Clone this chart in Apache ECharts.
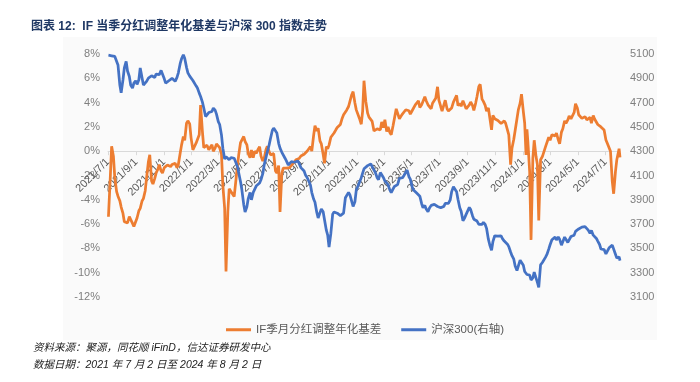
<!DOCTYPE html>
<html>
<head>
<meta charset="utf-8">
<script src="https://cdn.jsdelivr.net/npm/echarts@6/dist/echarts.min.js"></script>
<style>
html,body{margin:0;padding:0;background:#fff;}
#c{width:700px;height:382px;}
</style>
</head>
<body>
<div id="c"></div>
<script>
// ---- data (about twice a week + visible spikes), one row per month ----
const dates = [
'2021-07-02','2021-07-06','2021-07-09','2021-07-13','2021-07-16','2021-07-20','2021-07-23','2021-07-27','2021-07-30',
'2021-08-03','2021-08-06','2021-08-10','2021-08-13','2021-08-17','2021-08-20','2021-08-24','2021-08-27','2021-08-31',
'2021-09-03','2021-09-07','2021-09-10','2021-09-14','2021-09-17','2021-09-21','2021-09-24','2021-09-28',
'2021-10-01','2021-10-05','2021-10-08','2021-10-12','2021-10-15','2021-10-19','2021-10-22','2021-10-26','2021-10-29',
'2021-11-02','2021-11-05','2021-11-09','2021-11-12','2021-11-16','2021-11-19','2021-11-23','2021-11-26','2021-11-30',
'2021-12-03','2021-12-07','2021-12-10','2021-12-14','2021-12-17','2021-12-21','2021-12-24','2021-12-28','2021-12-31',
'2022-01-04','2022-01-07','2022-01-11','2022-01-14','2022-01-18','2022-01-21','2022-01-25','2022-01-28',
'2022-02-01','2022-02-04','2022-02-08','2022-02-11','2022-02-15','2022-02-18','2022-02-22','2022-02-25',
'2022-03-01','2022-03-04','2022-03-08','2022-03-11','2022-03-15','2022-03-18','2022-03-22','2022-03-25','2022-03-29',
'2022-04-01','2022-04-05','2022-04-08','2022-04-12','2022-04-15','2022-04-19','2022-04-22','2022-04-26','2022-04-29',
'2022-05-03','2022-05-06','2022-05-10','2022-05-13','2022-05-17','2022-05-20','2022-05-24','2022-05-27','2022-05-31',
'2022-06-03','2022-06-07','2022-06-10','2022-06-14','2022-06-17','2022-06-21','2022-06-24','2022-06-28',
'2022-07-01','2022-07-05','2022-07-08','2022-07-12','2022-07-15','2022-07-19','2022-07-22','2022-07-26','2022-07-29',
'2022-08-02','2022-08-05','2022-08-09','2022-08-12','2022-08-16','2022-08-19','2022-08-23','2022-08-26','2022-08-30',
'2022-09-02','2022-09-06','2022-09-09','2022-09-13','2022-09-16','2022-09-20','2022-09-23','2022-09-27','2022-09-30',
'2022-10-04','2022-10-07','2022-10-11','2022-10-14','2022-10-18','2022-10-21','2022-10-25','2022-10-28','2022-10-31',
'2022-11-04','2022-11-08','2022-11-11','2022-11-15','2022-11-18','2022-11-22','2022-11-25','2022-11-29',
'2022-12-02','2022-12-06','2022-12-09','2022-12-13','2022-12-16','2022-12-20','2022-12-23','2022-12-27','2022-12-30',
'2023-01-03','2023-01-06','2023-01-10','2023-01-13','2023-01-16','2023-01-20','2023-01-24','2023-01-27','2023-01-31',
'2023-02-03','2023-02-07','2023-02-10','2023-02-14','2023-02-17','2023-02-21','2023-02-24','2023-02-28',
'2023-03-03','2023-03-07','2023-03-10','2023-03-14','2023-03-17','2023-03-21','2023-03-24','2023-03-28','2023-03-31',
'2023-04-04','2023-04-07','2023-04-11','2023-04-14','2023-04-18','2023-04-21','2023-04-25','2023-04-28',
'2023-05-02','2023-05-05','2023-05-09','2023-05-12','2023-05-16','2023-05-19','2023-05-23','2023-05-26','2023-05-30',
'2023-06-02','2023-06-06','2023-06-09','2023-06-13','2023-06-16','2023-06-20','2023-06-23','2023-06-27','2023-06-30',
'2023-07-04','2023-07-07','2023-07-11','2023-07-14','2023-07-18','2023-07-21','2023-07-25','2023-07-28',
'2023-08-01','2023-08-04','2023-08-08','2023-08-11','2023-08-15','2023-08-18','2023-08-22','2023-08-25','2023-08-29',
'2023-09-01','2023-09-05','2023-09-08','2023-09-12','2023-09-15','2023-09-19','2023-09-22','2023-09-26','2023-09-29',
'2023-10-03','2023-10-06','2023-10-10','2023-10-13','2023-10-17','2023-10-20','2023-10-24','2023-10-27','2023-10-31',
'2023-11-03','2023-11-07','2023-11-10','2023-11-14','2023-11-17','2023-11-21','2023-11-24','2023-11-28',
'2023-12-01','2023-12-05','2023-12-08','2023-12-12','2023-12-15','2023-12-19','2023-12-22','2023-12-26','2023-12-29',
'2024-01-02','2024-01-05','2024-01-08','2024-01-10','2024-01-12','2024-01-16','2024-01-19','2024-01-23','2024-01-26','2024-01-30',
'2024-02-02','2024-02-05','2024-02-09','2024-02-13','2024-02-16','2024-02-20','2024-02-23','2024-02-27',
'2024-03-01','2024-03-05','2024-03-08','2024-03-12','2024-03-15','2024-03-19','2024-03-22','2024-03-26','2024-03-29',
'2024-04-02','2024-04-05','2024-04-09','2024-04-12','2024-04-16','2024-04-19','2024-04-23','2024-04-26','2024-04-30',
'2024-05-03','2024-05-07','2024-05-10','2024-05-14','2024-05-17','2024-05-21','2024-05-24','2024-05-28','2024-05-31',
'2024-06-04','2024-06-07','2024-06-11','2024-06-14','2024-06-18','2024-06-21','2024-06-25','2024-06-28',
'2024-07-02','2024-07-05','2024-07-09','2024-07-12','2024-07-16','2024-07-19','2024-07-23','2024-07-26','2024-07-31',
'2024-08-02'
];
// IF 季月分红调整年化基差 (%)
const basis = [
-5.4,-2.2,0.4,-0.44,-2.2,-3.33,-3.7,-4.07,-4.6,
-5.12,-5.8,-5.94,-5.9,-5.39,-5.4,-5.94,-6.2,-6.08,
-5.5,-4.9,-4.7,-4.1,-3.9,-3.25,-2.2,-0.86,
-0.3,-2.45,-2.7,-2.23,-1.8,-1.46,-1.1,-1.63,-1.8,
-1.35,-1.3,-1.13,-1.1,-1.27,-1.1,-1.21,-1.0,-1.35,
-1.1,-0.17,0.5,1.21,0.9,2.31,2.5,2.25,1.1,
0.11,0.1,0.66,0.5,1.35,3.8,1.62,0.3,
0.25,0.5,0.11,0.3,0.52,0.0,0.25,0.6,
0.52,0.3,-0.25,-2.8,-4.71,-9.9,-4.98,-3.1,-3.11,
-3.5,-3.74,-3.9,-1.27,-0.3,0.71,0.7,1.21,0.8,
0.52,-0.2,-0.53,0.1,-0.53,0.0,-0.17,0.1,0.38,
-0.4,-0.8,-0.6,0.11,0.4,-0.03,-0.3,-0.44,
-0.2,-1.63,-1.8,-1.19,-5.0,-1.82,-1.4,-1.27,-1.4,
-1.54,-1.35,-1.16,-1.0,-0.88,-0.7,-0.69,-0.6,-0.39,
-0.4,-0.25,-0.25,0.02,0.1,0.38,0.0,1.29,2.1,
1.67,1.9,0.85,0.6,-0.25,-1.0,0.38,0.2,0.5,
1.15,1.29,1.5,1.76,1.95,2.09,2.2,2.72,
3.0,2.86,3.4,3.68,4.1,4.65,4.9,3.96,3.4,
3.41,2.7,2.22,3.3,5.8,4.1,3.13,2.8,2.67,
2.45,1.67,1.6,1.84,2.0,1.76,2.4,1.95,
2.6,1.62,2.0,1.54,1.35,2.09,2.7,3.49,3.35,
2.67,2.85,3.08,3.1,3.41,3.4,3.33,3.05,
3.33,3.3,3.82,3.95,4.15,3.6,3.82,3.95,4.48,
4.15,3.82,3.9,3.49,3.95,3.88,4.35,5.3,4.2,
3.68,3.3,3.82,4.2,3.49,3.3,3.33,3.55,
4.04,3.9,4.59,3.75,3.93,3.7,4.15,4.05,3.49,
3.6,3.82,4.05,3.77,3.35,3.96,4.5,5.33,5.5,
4.29,4.1,3.77,3.3,3.55,2.8,1.76,2.95,2.67,
2.8,2.53,2.6,2.28,2.25,2.5,2.3,1.76,
1.35,-1.1,0.25,0.99,1.7,2.67,3.4,3.96,4.7,
3.27,2.3,-0.3,1.8,0.8,-1.7,-7.3,-0.58,0.9,-0.44,
-1.1,-5.7,-0.7,-0.44,-0.3,0.38,0.4,1.15,
0.9,1.35,1.2,1.26,1.5,0.93,0.6,1.57,1.85,
2.5,2.3,2.58,2.9,2.67,2.8,3.19,3.9,3.55,
3.0,2.86,2.7,2.67,2.85,2.58,2.5,2.78,2.3,
2.94,2.65,2.78,2.2,2.17,2.0,2.12,1.75,
0.93,0.65,0.52,0.0,-2.51,-3.5,-1.68,-0.7,0.2,
-0.5
];
// 沪深300 (右轴)
const csi300 = [
5090,5088,5085,5086,5080,5072,5010,4847,4780,
4888,4985,5039,4960,4915,4845,4819,4860,4880,
4850,4888,4985,4970,4845,4838,4875,4902,
4915,4921,4930,4907,4935,4924,4930,4965,4955,
4896,4860,4860,4880,4888,4900,4902,4875,4907,
4945,5020,5060,5094,5065,4990,4945,4918,4910,
4882,4870,4838,4820,4778,4750,4704,4655,
4585,4590,4618,4625,4627,4655,4638,4605,
4544,4520,4434,4325,4236,4255,4253,4230,4247,
4255,4242,4240,4176,4160,4049,3980,3862,3800,
3843,3910,3961,3900,3961,3960,4016,4000,4038,
4065,4115,4185,4247,4295,4352,4405,4470,
4490,4489,4450,4365,4325,4291,4270,4242,4220,
4187,4195,4214,4205,4209,4220,4220,4200,4165,
4155,4137,4105,4082,4080,4022,3960,3906,3880,
3796,3750,3760,3825,3802,3735,3650,3610,3510,
3625,3782,3800,3788,3790,3802,3770,3755,
3790,3917,3925,3961,3940,3945,3845,3884,3980,
4016,4045,4082,4120,4155,4165,4181,4195,4195,
4180,4145,4125,4082,4065,4124,4135,4082,
4055,4063,4025,3980,3960,3967,4010,4011,4025,
4077,4075,4082,4100,4110,4145,4090,4070,
4008,3980,3964,3955,3964,3930,3868,3835,3854,
3825,3802,3830,3854,3850,3862,3860,3845,3845,
3835,3850,3846,3870,3868,3870,3900,3965,
4008,4020,3967,3905,3835,3805,3727,3745,3780,
3805,3837,3820,3769,3740,3725,3725,3697,3705,
3697,3715,3697,3665,3576,3530,3485,3555,3604,
3620,3601,3615,3604,3580,3560,3550,3535,
3515,3470,3440,3411,3355,3318,3310,3403,3415,
3362,3310,3295,3285,3290,3280,3240,3257,3305,3293,
3220,3180,3365,3384,3395,3428,3450,3494,
3530,3571,3580,3593,3570,3593,3575,3527,3555,
3593,3580,3549,3555,3598,3595,3609,3640,3648,
3660,3656,3675,3670,3680,3689,3650,3623,3648,
3609,3600,3582,3560,3532,3495,3494,3490,
3455,3460,3505,3520,3527,3527,3452,3420,3430,
3400
];
const seriesNames = ['IF季月分红调整年化基差', '沪深300(右轴)'];
const leftMin = -12, leftMax = 8, leftStep = 2;
const rightMin = 3100, rightMax = 5100, rightStep = 200;

const gridTop = 54, gridHeight = 243;
// put the date axis on the 0% level of the left axis (Excel style)
const xAxisOffset = -gridHeight * (0 - leftMin) / (leftMax - leftMin);

const chart = echarts.init(document.getElementById('c'), null, {renderer: 'canvas'});
const latin = 'Liberation Sans, Arial, "Noto Sans CJK SC", sans-serif';

const option = {
  animation: false,
  backgroundColor: '#ffffff',
  graphic: [
    {type: 'rect', z: -10, shape: {x: 63, y: 37, width: 594, height: 303}, style: {fill: '#fafafa'}},
    {type: 'text', left: 31, top: 21, style: {text: '图表 12:  IF 当季分红调整年化基差与沪深 300 指数走势', fontSize: 12, fontWeight: 'bold', fontFamily: latin, fill: '#1f3864'}},
    {type: 'text', left: 33, top: 343, style: {text: '资料来源：聚源，同花顺 iFinD，信达证券研发中心', fontSize: 10.5, fontStyle: 'italic', fontFamily: latin, fill: '#222'}},
    {type: 'text', left: 33, top: 360, style: {text: '数据日期：2021 年 7 月 2 日至 2024 年 8 月 2 日', fontSize: 10.5, fontStyle: 'italic', fontFamily: latin, fill: '#222'}}
  ],
  legend: {
    left: 221, top: 319,
    icon: 'rect',
    itemWidth: 25, itemHeight: 3, itemGap: 20,
    textStyle: {fontSize: 11.5, color: '#595959', fontFamily: latin},
    data: seriesNames
  },
  grid: {left: 108, right: 80, top: gridTop, height: gridHeight, containLabel: false},
  xAxis: {
    type: 'time',
    min: '2021-07-01', max: '2024-08-02',
    splitNumber: 16,
    offset: xAxisOffset,
    axisLine: {onZero: false, lineStyle: {color: '#d9d9d9', width: 1}},
    axisTick: {show: true, length: 4, lineStyle: {color: '#d9d9d9'}},
    splitLine: {show: false},
    axisLabel: {
      rotate: 45, margin: 9, fontSize: 11, color: '#595959', fontFamily: latin,
      showMaxLabel: false, hideOverlap: false,
      formatter: function (v) {
        const d = new Date(v);
        if (d.getDate() !== 1) return '';
        return d.getFullYear() + '/' + (d.getMonth() + 1) + '/1';
      }
    }
  },
  yAxis: [
    {
      type: 'value', min: leftMin, max: leftMax, interval: leftStep,
      axisLine: {show: false}, axisTick: {show: false}, splitLine: {show: false},
      axisLabel: {formatter: '{value}%', fontSize: 11, color: '#7f7f7f', margin: 8, fontFamily: latin}
    },
    {
      type: 'value', min: 0, max: rightMax - rightMin, interval: rightStep,
      axisLine: {show: false}, axisTick: {show: false}, splitLine: {show: false},
      axisLabel: {formatter: function (v) { return String(v + rightMin); }, fontSize: 11, color: '#7f7f7f', margin: 10, fontFamily: latin}
    }
  ],
  series: [
    {
      name: seriesNames[0], type: 'line', yAxisIndex: 0, symbol: 'none',
      lineStyle: {width: 2.75, color: '#ed7d31'}, itemStyle: {color: '#ed7d31'},
      data: dates.map((d, i) => [d, basis[i]])
    },
    {
      name: seriesNames[1], type: 'line', yAxisIndex: 1, symbol: 'none',
      lineStyle: {width: 2.75, color: '#4472c4'}, itemStyle: {color: '#4472c4'},
      data: dates.map((d, i) => [d, csi300[i] - rightMin])
    }
  ]
};
chart.setOption(option);
</script>
</body>
</html>
